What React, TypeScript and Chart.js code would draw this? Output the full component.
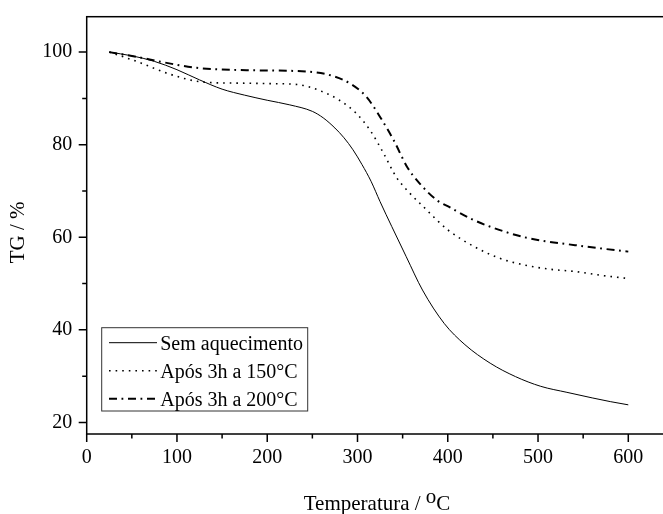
import React, { useEffect, useRef } from "react";
import { Chart, registerables } from "chart.js";

Chart.register(...registerables);

// ---- data ----
const tempSem = [25, 50, 75, 100, 125, 150, 175, 200, 225, 250, 262, 275, 285, 295, 305, 315, 325, 338, 354, 372, 396, 419, 447, 475, 503, 532, 560, 580, 600];
const tgSem = [100, 99.2, 98.0, 96.2, 94.0, 92.0, 90.7, 89.6, 88.6, 87.2, 85.8, 83.6, 81.5, 78.9, 75.7, 72.1, 67.7, 62.3, 55.8, 48.6, 41.4, 36.8, 32.8, 29.9, 27.8, 26.5, 25.3, 24.5, 23.8];

const temp150 = [25, 58, 91, 130, 170, 200, 233, 258, 280, 299, 314, 329, 343, 358, 373, 388, 400, 429, 457, 485, 513, 541, 569, 600];
const tg150 = [100, 97.8, 95.3, 93.5, 93.3, 93.2, 93.0, 91.7, 89.6, 86.7, 83.1, 78.1, 73.0, 69.5, 66.6, 63.7, 61.6, 58.0, 55.5, 54.0, 53.1, 52.6, 51.8, 51.1];

const temp200 = [25, 55, 85, 122, 177, 243, 270, 292, 310, 325, 340, 355, 369, 388, 401, 429, 457, 485, 513, 541, 569, 600];
const tg200 = [100, 99.0, 97.8, 96.6, 96.1, 95.8, 95.0, 93.2, 90.3, 86.0, 81.0, 75.2, 71.6, 68.0, 66.6, 63.7, 61.6, 60.0, 59.0, 58.3, 57.6, 56.9];

const seriesLabels = ["Sem aquecimento", "Após 3h a 150°C", "Após 3h a 200°C"];

const xTitleMain = "Temperatura / ";
const xTitleSup = "o";
const xTitleEnd = "C";
const yTitle = "TG / %";

const xMin = 0;
const xMax = 640;
const xStep = 50;
const yMin = 17.5;
const yMax = 107.65;
const yStep = 10;

const FONT = "'Liberation Serif', 'Times New Roman', serif";

const toPoints = (xs: number[], ys: number[]) => xs.map((x, i) => ({ x, y: ys[i] }));

const decorPlugin = {
  id: "decor",
  afterDraw(chart: any) {
    const { ctx, chartArea: a, scales } = chart;
    ctx.save();
    ctx.strokeStyle = "#000";
    ctx.lineWidth = 1.5;
    ctx.setLineDash([]);
    ctx.strokeRect(a.left, a.top, a.right - a.left, a.bottom - a.top);

    // tick marks (major + minor), outward
    const xs = scales.x;
    const ys = scales.y;
    ctx.beginPath();
    xs.ticks.forEach((t: any) => {
      const px = xs.getPixelForValue(t.value);
      const len = Math.round(t.value) % 100 === 0 ? 8 : 4.5;
      ctx.moveTo(px, a.bottom);
      ctx.lineTo(px, a.bottom + len);
    });
    ys.ticks.forEach((t: any) => {
      const py = ys.getPixelForValue(t.value);
      const len = Math.round(t.value) % 20 === 0 ? 8 : 4.5;
      ctx.moveTo(a.left, py);
      ctx.lineTo(a.left - len, py);
    });
    ctx.stroke();

    // x title with superscript
    ctx.fillStyle = "#000";
    ctx.font = `21px ${FONT}`;
    ctx.textBaseline = "alphabetic";
    ctx.textAlign = "left";
    const w1 = ctx.measureText(xTitleMain).width;
    const w2 = ctx.measureText(xTitleSup).width;
    const w3 = ctx.measureText(xTitleEnd).width;
    const total = w1 + w2 + w3;
    const cx = (a.left + a.right) / 2 + 1.5;
    let sx = cx - total / 2;
    const by = a.bottom + 76;
    ctx.fillText(xTitleMain, sx, by);
    sx += w1;
    ctx.fillText(xTitleSup, sx, by - 7);
    sx += w2;
    ctx.fillText(xTitleEnd, sx, by);

    // y title
    ctx.save();
    ctx.translate(a.left - 68, (a.top + a.bottom) / 2 + 7);
    ctx.rotate(-Math.PI / 2);
    ctx.textAlign = "center";
    ctx.textBaseline = "middle";
    ctx.font = `21px ${FONT}`;
    ctx.fillText(yTitle, 0, 0);
    ctx.restore();

    // legend
    const bl = a.left + 15;
    const bt = a.bottom - 106.3;
    const bw = 206;
    const bh = 83.3;
    ctx.fillStyle = "#fff";
    ctx.fillRect(bl, bt, bw, bh);
    ctx.strokeStyle = "#333";
    ctx.lineWidth = 1;
    ctx.strokeRect(bl, bt, bw, bh);
    ctx.font = `20px ${FONT}`;
    chart.data.datasets.forEach((ds: any, i: number) => {
      const ry = bt + 15 + i * 28;
      ctx.save();
      ctx.strokeStyle = ds.borderColor;
      ctx.lineWidth = ds.borderWidth;
      ctx.setLineDash(ds.borderDash || []);
      ctx.beginPath();
      ctx.moveTo(bl + 7.3, ry);
      ctx.lineTo(bl + 55.3, ry);
      ctx.stroke();
      ctx.restore();
      ctx.fillStyle = "#000";
      ctx.textAlign = "left";
      ctx.textBaseline = "alphabetic";
      ctx.fillText(ds.label, bl + 58.5, ry + 7);
    });

    ctx.restore();
  },
};

export default function App() {
  const ref = useRef<HTMLCanvasElement | null>(null);

  useEffect(() => {
    if (!ref.current) return;
    const chart = new Chart(ref.current, {
      type: "line",
      data: {
        datasets: [
          {
            label: seriesLabels[0],
            data: toPoints(tempSem, tgSem),
            borderColor: "#000",
            borderWidth: 1,
            borderDash: [],
            pointRadius: 0,
            fill: false,
            cubicInterpolationMode: "monotone",
          },
          {
            label: seriesLabels[1],
            data: toPoints(temp150, tg150),
            borderColor: "#000",
            borderWidth: 1.6,
            borderDash: [1.6, 5],
            pointRadius: 0,
            fill: false,
            cubicInterpolationMode: "monotone",
          },
          {
            label: seriesLabels[2],
            data: toPoints(temp200, tg200),
            borderColor: "#000",
            borderWidth: 2,
            borderDash: [8, 4.5, 1.8, 4.7],
            pointRadius: 0,
            fill: false,
            cubicInterpolationMode: "monotone",
          },
        ] as any,
      },
      options: {
        animation: false,
        responsive: false,
        devicePixelRatio: 1,
        events: [],
        layout: { padding: { left: 0, top: 16.7, right: 15.6, bottom: 0 } },
        plugins: {
          legend: { display: false },
          tooltip: { enabled: false },
          title: { display: false },
        },
        scales: {
          x: {
            type: "linear",
            min: xMin,
            max: xMax,
            grid: { display: false, drawTicks: false },
            border: { display: false },
            ticks: {
              stepSize: xStep,
              includeBounds: false,
              autoSkip: false,
              maxRotation: 0,
              padding: 12,
              color: "#000",
              font: { family: FONT, size: 20 },
              callback: (v: any) => (Math.round(Number(v)) % 100 === 0 ? String(Math.round(Number(v))) : ""),
            },
            afterFit: (s: any) => {
              s.height = 80;
              s.paddingLeft = 0;
              s.paddingRight = 0;
            },
          },
          y: {
            type: "linear",
            min: yMin,
            max: yMax,
            grid: { display: false, drawTicks: false },
            border: { display: false },
            ticks: {
              stepSize: yStep,
              includeBounds: false,
              autoSkip: false,
              padding: 14.4,
              color: "#000",
              font: { family: FONT, size: 20 },
              callback: (v: any) => (Math.round(Number(v)) % 20 === 0 ? String(Math.round(Number(v))) : ""),
            },
            afterFit: (s: any) => {
              s.width = 86.7;
              s.paddingTop = 0;
              s.paddingBottom = 0;
            },
          },
        },
      } as any,
      plugins: [decorPlugin],
    });
    return () => chart.destroy();
  }, []);

  return (
    <div
      style={{
        position: "fixed",
        left: 0,
        top: 0,
        width: 663,
        height: 514,
        overflow: "hidden",
        background: "#fff",
      }}
    >
      <canvas ref={ref} width={680} height={514} style={{ display: "block" }} />
    </div>
  );
}
